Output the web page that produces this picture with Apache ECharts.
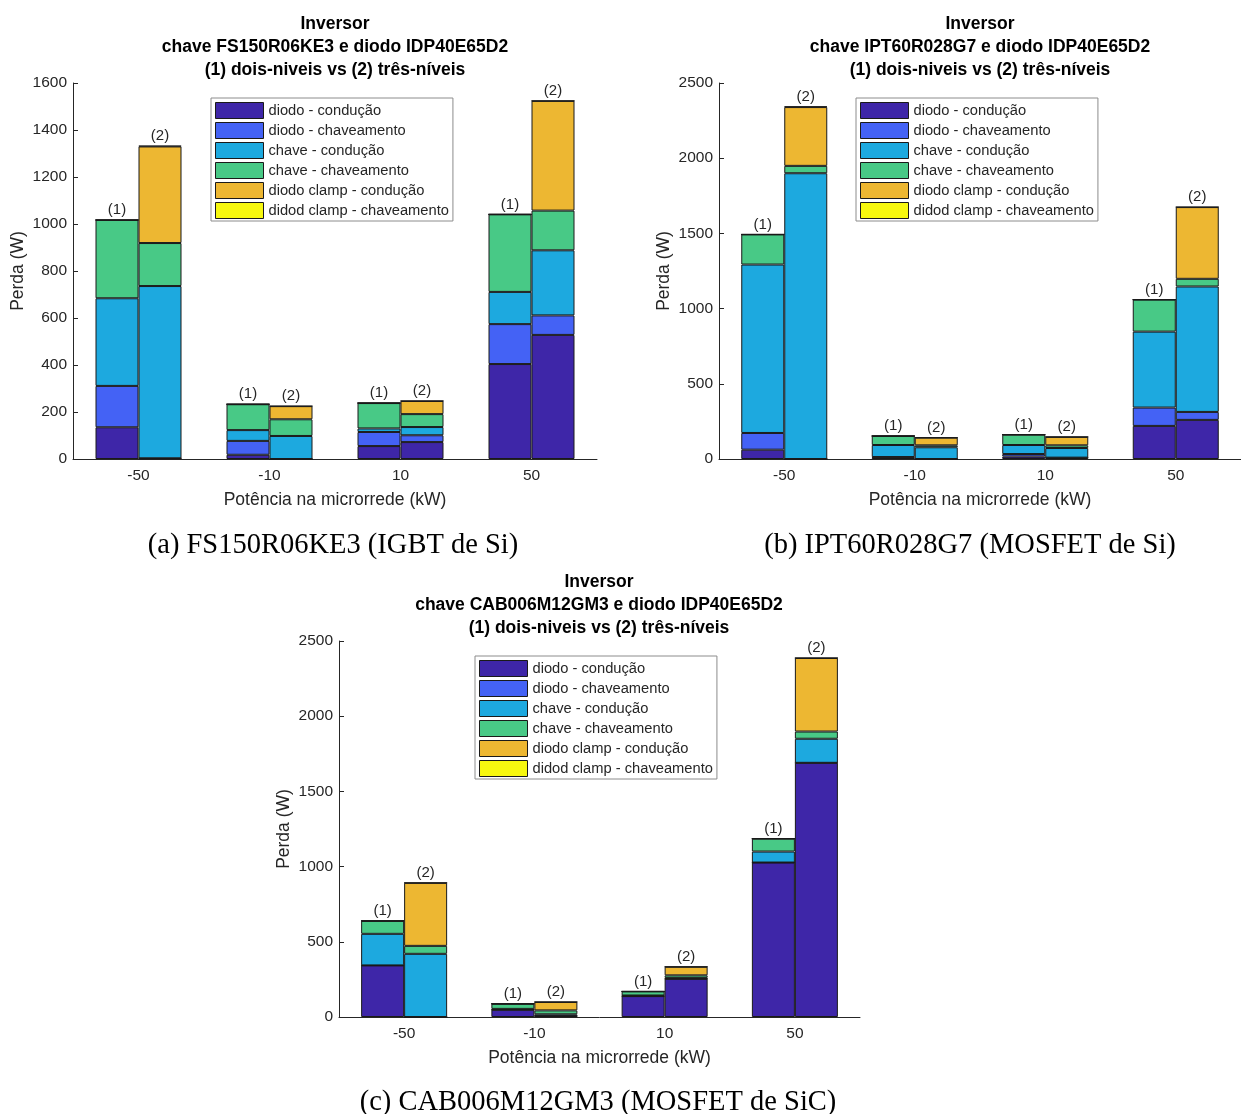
<!DOCTYPE html>
<html>
<head>
<meta charset="utf-8">
<script src="https://cdn.jsdelivr.net/npm/echarts@6/dist/echarts.min.js"></script>
<style>
  html, body { margin: 0; padding: 0; background: #ffffff; }
  #grafico { width: 1241px; height: 1114px; }
</style>
</head>
<body>
<div id="grafico"></div>
<script>
// Potência na microrrede (kW)
const categorias = ['-50', '-10', '10', '50'];

// Parcelas de perda, na ordem de empilhamento (de baixo para cima)
const componentes = [
  'diodo - condução',
  'diodo - chaveamento',
  'chave - condução',
  'chave - chaveamento',
  'diodo clamp - condução',
  'didod clamp - chaveamento'
];

// Perdas em W: uma linha por componente, uma coluna por potência
// FS150R06KE3 (IGBT de Si)
const fsDoisNiveis = [
  [135, 18, 55, 404],
  [176, 59, 60, 170],
  [373, 46, 15, 137],
  [333, 110, 108, 330],
  [0, 0, 0, 0],
  [0, 0, 0, 0]
];
const fsTresNiveis = [
  [3, 0, 72, 528],
  [0, 0, 29, 83],
  [733, 98, 35, 277],
  [183, 71, 55, 169],
  [411, 56, 56, 467],
  [3, 0, 0, 0]
];

// IPT60R028G7 (MOSFET de Si)
const iptDoisNiveis = [
  [62, 10, 16, 220],
  [111, 3, 17, 122],
  [1120, 80, 60, 505],
  [200, 60, 69, 213],
  [0, 0, 0, 0],
  [0, 0, 0, 0]
];
const iptTresNiveis = [
  [0, 0, 9, 260],
  [0, 0, 0, 53],
  [1900, 78, 64, 834],
  [49, 13, 18, 51],
  [391, 51, 56, 477],
  [4, 0, 0, 0]
];

// CAB006M12GM3 (MOSFET de SiC)
const cabDoisNiveis = [
  [343, 48, 139, 1027],
  [0, 0, 0, 0],
  [210, 6, 4, 73],
  [86, 34, 27, 86],
  [0, 0, 0, 0],
  [0, 0, 0, 0]
];
const cabTresNiveis = [
  [0, 6, 254, 1690],
  [0, 0, 0, 0],
  [420, 12, 6, 160],
  [53, 26, 17, 48],
  [419, 56, 57, 489],
  [0, 0, 0, 0]
];

// Limites dos eixos de perda
const perdaMax = [1600, 2500, 2500];
const perdaPasso = [200, 500, 500];

// Textos de cada painel
const titulos = [
  'Inversor\nchave FS150R06KE3 e diodo IDP40E65D2\n(1) dois-niveis vs (2) três-níveis',
  'Inversor\nchave IPT60R028G7 e diodo IDP40E65D2\n(1) dois-niveis vs (2) três-níveis',
  'Inversor\nchave CAB006M12GM3 e diodo IDP40E65D2\n(1) dois-niveis vs (2) três-níveis'
];
const legendas = [
  '(a) FS150R06KE3 (IGBT de Si)',
  '(b) IPT60R028G7 (MOSFET de Si)',
  '(c) CAB006M12GM3 (MOSFET de SiC)'
];
const rotulosTopologia = ['(1)', '(2)'];

const dadosPaineis = [
  [fsDoisNiveis, fsTresNiveis],
  [iptDoisNiveis, iptTresNiveis],
  [cabDoisNiveis, cabTresNiveis]
];

// ---- aparência ----
const cores = ['#3E26A8', '#4462F5', '#1DA9DF', '#48C986', '#EDB732', '#F7F80F'];
const fonte = '"Liberation Sans", Arial, Helvetica, sans-serif';
const fonteSerif = '"Liberation Serif", "Times New Roman", serif';
const corTexto = '#262626';

// posição das áreas de plotagem
const layout = [
  { left: 73,  top: 83,  width: 524, height: 376, legendLeft: 211, legendTop: 98,
    titleX: 335, titleY: 13, capX: 333, capY: 546 },
  { left: 719, top: 83,  width: 522, height: 376, legendLeft: 856, legendTop: 98,
    titleX: 980, titleY: 13, capX: 970, capY: 546 },
  { left: 339, top: 641, width: 521, height: 376, legendLeft: 475, legendTop: 656,
    titleX: 599, titleY: 571, capX: 598, capY: 1103 }
];

const grids = [], xAxes = [], yAxes = [], legends = [], series = [], graphics = [];

layout.forEach((L, i) => {
  grids.push({ left: L.left, top: L.top, width: L.width, height: L.height, containLabel: false });

  xAxes.push({
    type: 'category', gridIndex: i, data: categorias,
    axisLine: { show: true, lineStyle: { color: corTexto, width: 1 } },
    axisTick: { show: false },
    axisLabel: { fontSize: 15.5, color: corTexto, fontFamily: fonte, margin: 9 },
    name: 'Potência na microrrede (kW)', nameLocation: 'middle', nameGap: 32,
    nameTextStyle: { fontSize: 17.5, color: corTexto, fontFamily: fonte },
    splitLine: { show: false }
  });

  yAxes.push({
    type: 'value', gridIndex: i, min: 0, max: perdaMax[i], interval: perdaPasso[i],
    axisLine: { show: true, lineStyle: { color: corTexto, width: 1 } },
    axisTick: { show: true, inside: true, length: 5, lineStyle: { color: corTexto } },
    axisLabel: {
      fontSize: 15.5, color: corTexto, fontFamily: fonte, margin: 6,
      formatter: (v) => String(v)
    },
    splitLine: { show: false },
    name: 'Perda (W)', nameLocation: 'middle', nameGap: 46,
    nameTextStyle: { fontSize: 17.5, color: corTexto, fontFamily: fonte }
  });

  legends.push({
    data: componentes, orient: 'vertical', left: L.legendLeft, top: L.legendTop,
    itemWidth: 48, itemHeight: 16, itemGap: 3, padding: [4, 4, 2, 4],
    icon: 'rect', selectedMode: false,
    backgroundColor: '#ffffff', borderColor: '#8c8c8c', borderWidth: 1,
    itemStyle: { borderColor: '#1a1a1a', borderWidth: 1 },
    textStyle: { fontSize: 14.7, lineHeight: 16, color: corTexto, fontFamily: fonte }
  });

  dadosPaineis[i].forEach((matriz, k) => {
    matriz.forEach((valores, j) => {
      const s = {
        type: 'bar', name: componentes[j], xAxisIndex: i, yAxisIndex: i,
        stack: 'painel' + i + '_' + k, data: valores,
        barWidth: 43, barGap: '0%',
        itemStyle: { color: cores[j], borderColor: '#1a1a1a', borderWidth: 1 },
        emphasis: { disabled: true },
        animation: false
      };
      if (j === componentes.length - 1) {
        s.label = {
          show: true, position: 'top', distance: 2,
          formatter: rotulosTopologia[k],
          fontSize: 15, color: corTexto, fontFamily: fonte
        };
      }
      series.push(s);
    });
  });

  graphics.push({
    type: 'text', x: L.titleX, y: L.titleY,
    style: {
      text: titulos[i], align: 'center', verticalAlign: 'top',
      fontSize: 17.5, fontWeight: 'bold', fontFamily: fonte, lineHeight: 23, fill: '#000000'
    }
  });
  graphics.push({
    type: 'text', x: L.capX, y: L.capY,
    style: {
      text: legendas[i], align: 'center', verticalAlign: 'middle',
      fontSize: 28.5, fontFamily: fonteSerif, fill: '#000000'
    }
  });
});

const chart = echarts.init(document.getElementById('grafico'), null, { renderer: 'canvas' });
chart.setOption({
  backgroundColor: '#ffffff',
  animation: false,
  tooltip: { show: false },
  grid: grids,
  xAxis: xAxes,
  yAxis: yAxes,
  legend: legends,
  series: series,
  graphic: graphics
});
</script>
</body>
</html>
